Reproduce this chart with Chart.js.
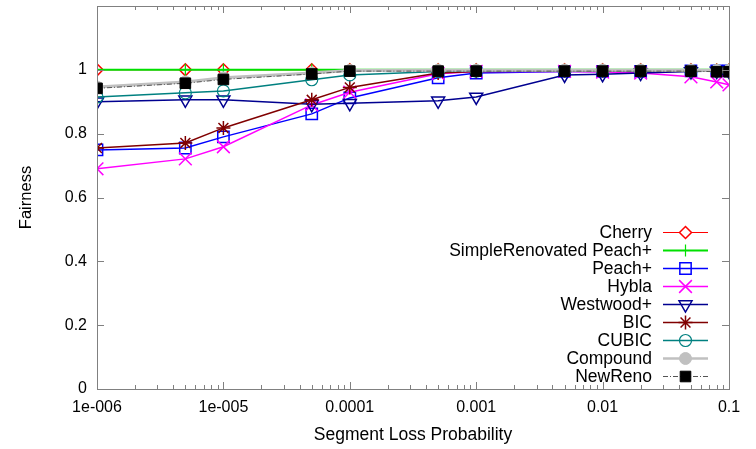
<!DOCTYPE html>
<html>
<head>
<meta charset="utf-8">
<script src="https://cdn.jsdelivr.net/npm/chart.js@4.4.1/dist/chart.umd.min.js"></script>
<style>
html,body{margin:0;padding:0;background:#fff;}
#wrap{width:756px;height:449px;}
</style>
</head>
<body>
<div id="wrap"><canvas id="c" width="756" height="449"></canvas></div>
<script>
// ---- data ----
const xValues = [1e-6, 5e-6, 1e-5, 5e-5, 1e-4, 5e-4, 1e-3, 5e-3, 1e-2, 2e-2, 5e-2, 8e-2, 1e-1];
const seriesNames = ["Cherry", "SimpleRenovated Peach+", "Peach+", "Hybla", "Westwood+", "BIC", "CUBIC", "Compound", "NewReno"];
const cherry   = [1.000, 1.000, 1.000, 1.000, 1.000, 1.000, 1.000, 1.000, 1.000, 1.000, 1.000, 0.999, 0.999];
const srPeach  = [1.000, 1.000, 1.000, 1.000, 1.000, 1.000, 1.000, 1.000, 1.000, 1.000, 1.000, 1.000, 1.000];
const peach    = [0.749, 0.755, 0.790, 0.862, 0.912, 0.975, 0.990, 0.995, 0.995, 0.995, 0.997, 0.997, 0.997];
const hybla    = [0.690, 0.721, 0.759, 0.890, 0.930, 0.988, 0.995, 0.995, 0.993, 0.990, 0.978, 0.962, 0.953];
const westwood = [0.900, 0.906, 0.906, 0.892, 0.895, 0.903, 0.915, 0.984, 0.986, 0.990, 0.995, 0.996, 0.996];
const bic      = [0.755, 0.771, 0.818, 0.906, 0.945, 0.990, 0.995, 0.996, 0.996, 0.996, 0.996, 0.996, 0.996];
const cubic    = [0.915, 0.928, 0.934, 0.969, 0.984, 0.995, 0.996, 0.997, 0.997, 0.997, 0.997, 0.997, 0.997];
const compound = [0.946, 0.962, 0.975, 0.990, 0.998, 0.999, 0.999, 0.999, 0.999, 0.999, 0.999, 0.998, 0.998];
const newreno  = [0.942, 0.958, 0.970, 0.987, 0.996, 0.996, 0.996, 0.996, 0.996, 0.996, 0.996, 0.994, 0.994];
const xTickValues = [1e-6, 1e-5, 1e-4, 1e-3, 1e-2, 1e-1];
const xTickLabels = ["1e-006", "1e-005", "0.0001", "0.001", "0.01", "0.1"];
const yTickValues = [0, 0.2, 0.4, 0.6, 0.8, 1.0];
const yTickLabels = ["0", "0.2", "0.4", "0.6", "0.8", "1"];

const FONT = "'Liberation Sans', Arial, sans-serif";

function pts(arr){ return xValues.map((x,i)=>({x:x, y:arr[i]})); }

const styles = [
  {data:cherry,   color:'#ff0000', ps:'rectRot', r:6,   fill:'#ffffff', bw:1.5, lw:1},
  {data:srPeach,  color:'#00e000', ps:'cross',   r:6,   fill:'#00e000', bw:1.2, lw:2},
  {data:peach,    color:'#0000ff', ps:'rect',    r:8,   fill:'rgba(0,0,0,0)', bw:1.5, lw:1.5},
  {data:hybla,    color:'#ff00ff', ps:'crossRot',r:9,   fill:'#ff00ff', bw:1.5, lw:1.5},
  {data:westwood, color:'#000090', ps:'triangle',r:7.5, fill:'rgba(0,0,0,0)', bw:1.5, lw:1.5, rot:180},
  {data:bic,      color:'#800000', ps:'star',    r:7,   fill:'#800000', bw:1.5, lw:1.5},
  {data:cubic,    color:'#008080', ps:'circle',  r:6,   fill:'rgba(0,0,0,0)', bw:1.2, lw:1.5},
  {data:compound, color:'#c0c0c0', ps:'circle',  r:6,   fill:'#c0c0c0', bw:1, lw:3},
  {data:newreno,  color:'#000000', ps:'rect',    r:7.5, fill:'#000000', bw:1, lw:1, line:'#555555', dash:[5,2,1,2]}
];

const datasets = styles.map((s,i)=>({
  label: seriesNames[i],
  data: pts(s.data),
  borderColor: s.line || s.color,
  borderWidth: s.lw,
  borderDash: s.dash || [],
  pointStyle: s.ps,
  pointRadius: s.r,
  pointRotation: s.rot || 0,
  pointBorderColor: s.color,
  pointBackgroundColor: s.fill,
  pointBorderWidth: s.bw,
  fill: false,
  tension: 0,
  order: styles.length - 1 - i
}));

const PLOT_TOP = 6;

const framePlugin = {
  id: 'frame',
  afterLayout(chart){
    const a = chart.chartArea, ys = chart.scales.y;
    a.top = PLOT_TOP; a.height = a.bottom - a.top;
    ys.top = PLOT_TOP; ys.height = ys.bottom - ys.top;
    ys.configure();
  },
  afterDraw(chart){
    const ctx = chart.ctx, a = chart.chartArea;
    const xs = chart.scales.x, ys = chart.scales.y;
    ctx.save();
    ctx.strokeStyle = '#808080';
    ctx.lineWidth = 1;
    ctx.strokeRect(Math.round(a.left)+0.5, Math.round(a.top)+0.5, Math.round(a.right-a.left), Math.round(a.bottom-a.top));
    ctx.beginPath();
    // y ticks
    [0,0.2,0.4,0.6,0.8,1.0,1.2].forEach(v=>{
      const y = Math.round(ys.getPixelForValue(v))+0.5;
      ctx.moveTo(a.left, y); ctx.lineTo(a.left+7, y);
      ctx.moveTo(a.right, y); ctx.lineTo(a.right-7, y);
    });
    // x ticks
    for (let k=-6; k<=-1; k++){
      for (let m=1; m<=9; m++){
        const v = m*Math.pow(10,k);
        if (v > 0.1000001) break;
        const x = Math.round(xs.getPixelForValue(v))+0.5;
        const L = (m===1) ? 7 : 4;
        ctx.moveTo(x, a.bottom); ctx.lineTo(x, a.bottom-L);
        ctx.moveTo(x, a.top); ctx.lineTo(x, a.top+L);
      }
    }
    ctx.stroke();
    ctx.restore();

    // legend
    const textRight = 652, lx0 = 663, lx1 = 708, mx = 685.5, y0 = 232, dy = 18;
    ctx.save();
    ctx.font = '17.5px ' + FONT;
    ctx.textAlign = 'right';
    ctx.textBaseline = 'middle';
    chart.data.datasets.forEach((ds,i)=>{
      const y = y0 + i*dy;
      ctx.fillStyle = '#000';
      ctx.fillText(ds.label, textRight, y+1);
      ctx.save();
      ctx.strokeStyle = ds.borderColor;
      ctx.lineWidth = Math.min(ds.borderWidth, 2.5);
      ctx.setLineDash(ds.borderDash || []);
      ctx.beginPath(); ctx.moveTo(lx0, y+0.5); ctx.lineTo(lx1, y+0.5); ctx.stroke();
      ctx.restore();
      ctx.save();
      ctx.strokeStyle = ds.pointBorderColor;
      ctx.fillStyle = ds.pointBackgroundColor;
      ctx.lineWidth = ds.pointBorderWidth;
      Chart.helpers.drawPoint(ctx, {pointStyle: ds.pointStyle, radius: ds.pointRadius, rotation: ds.pointRotation, borderWidth: ds.pointBorderWidth}, mx, y+0.5);
      ctx.restore();
    });
    ctx.restore();
  }
};

new Chart(document.getElementById('c'), {
  type: 'line',
  data: { datasets: datasets },
  options: {
    responsive: false,
    animation: false,
    devicePixelRatio: 1,
    layout: { padding: { top: 6, right: 27, left: 0, bottom: 0 } },
    plugins: { legend: { display: false }, tooltip: { enabled: false } },
    scales: {
      x: {
        type: 'logarithmic',
        min: 1e-6, max: 0.1,
        grid: { display: false, drawTicks: false },
        border: { display: false },
        afterBuildTicks: s => { s.ticks = xTickValues.map(v=>({value:v})); },
        afterFit: s => { s.height = 60; },
        ticks: {
          autoSkip: false, maxRotation: 0, padding: 9,
          color: '#000', font: { family: FONT, size: 16 },
          callback: (v) => { const i = xTickValues.findIndex(t => Math.abs(t - v)/t < 1e-6); return i >= 0 ? xTickLabels[i] : ''; }
        },
        title: { display: true, text: 'Segment Loss Probability', color: '#000', font: { family: FONT, size: 17.5 }, padding: { top: 0, bottom: 3 } }
      },
      y: {
        min: 0, max: 1.2,
        grid: { display: false, drawTicks: false },
        border: { display: false },
        afterBuildTicks: s => { s.ticks = yTickValues.map(v=>({value:v})); },
        afterFit: s => { s.width = 97; s.paddingTop = 0; s.paddingBottom = 0; },
        ticks: {
          padding: 10, color: '#000', font: { family: FONT, size: 16 },
          callback: (v) => { const i = yTickValues.findIndex(t => Math.abs(t - v) < 1e-9); return i >= 0 ? yTickLabels[i] : ''; }
        },
        title: { display: true, text: 'Fairness', color: '#000', font: { family: FONT, size: 16.5 }, padding: { top: 17, bottom: 0 } }
      }
    }
  },
  plugins: [framePlugin]
});
</script>
</body>
</html>
